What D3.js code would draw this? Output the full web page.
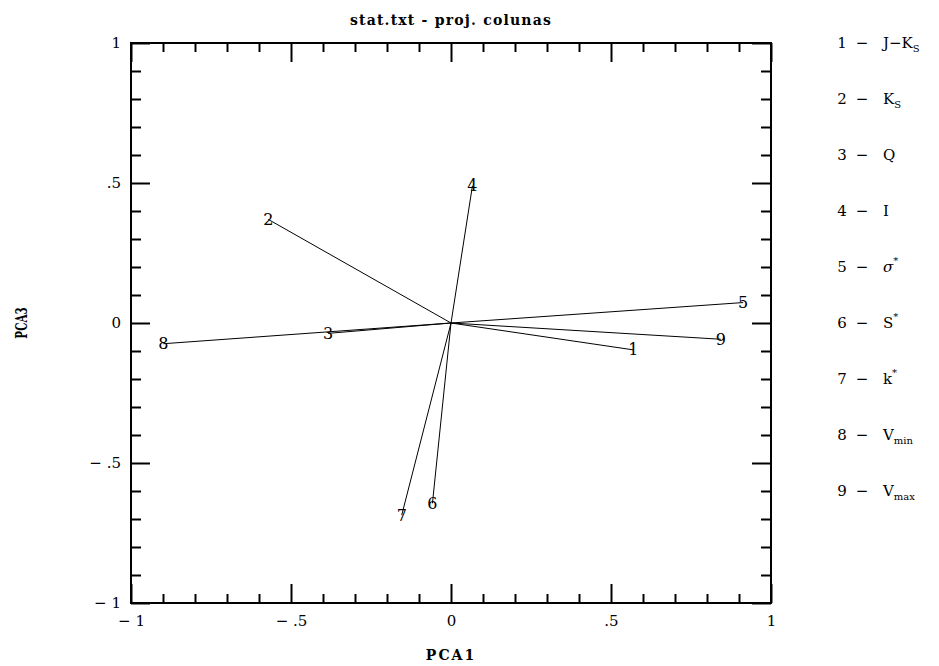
<!DOCTYPE html>
<html>
<head>
<meta charset="utf-8">
<script src="https://cdn.jsdelivr.net/npm/d3@7"></script>
<style>
  body { margin: 0; background: #fff; }
  svg { display: block; }
  text { font-family: "DejaVu Serif", "Liberation Serif", serif; fill: #000; }
</style>
</head>
<body>
<div id="chart"></div>
<script>
// Dados: projeção das colunas (PCA1 x PCA3)
const varIds = ["1", "2", "3", "4", "5", "6", "7", "8", "9"];
const pca1 = [0.570, -0.571, -0.384, 0.067, 0.913, -0.058, -0.154, -0.899, 0.843];
const pca3 = [-0.096, 0.370, -0.037, 0.490, 0.073, -0.644, -0.686, -0.074, -0.058];

// Legenda: [texto base, subscrito, sobrescrito, itálico]
const legendNames = [
  ["J\u2212K", "S", "", false],
  ["K", "S", "", false],
  ["Q", "", "", false],
  ["I", "", "", false],
  ["\u03c3", "", "*", true],
  ["S", "", "*", false],
  ["k", "", "*", false],
  ["V", "min", "", false],
  ["V", "max", "", false]
];

const majorTicks = [-1, -0.5, 0, 0.5, 1];
const minorTicks = d3.range(-10, 11).map(d => d / 10).filter(d => !majorTicks.includes(d));

const titleText = "stat.txt - proj. colunas";
const xLabel = "PCA1", yLabel = "PCA3";

const W = 939, H = 666;
const margin = { top: 43, left: 131 },
      width = 640,
      height = 560;

const svg = d3.select("#chart").append("svg")
  .attr("width", W).attr("height", H);

const g = svg.append("g")
  .attr("transform", `translate(${margin.left},${margin.top})`);

const x = d3.scaleLinear().domain([-1, 1]).range([0, width]);
const y = d3.scaleLinear().domain([-1, 1]).range([height, 0]);

const fmt = d => d === 0 ? "0" : (d < 0 ? "\u2212 " : "") + String(Math.abs(d)).replace(/^0/, "");

// eixos: ticks para dentro, maiores nos valores de 0.5
function styleAxis(sel) {
  sel.select(".domain").remove();
  sel.selectAll("line").attr("stroke", "#000").attr("stroke-width", 2);
  sel.selectAll("text").style("font-size", "15px")
    .style("font-family", "'DejaVu Serif', serif");
}

const axes = [
  { ax: d3.axisBottom(x), tr: `translate(0,${height})`, labels: true },
  { ax: d3.axisTop(x), tr: "translate(0,0)", labels: false },
  { ax: d3.axisLeft(y), tr: "translate(0,0)", labels: true },
  { ax: d3.axisRight(y), tr: `translate(${width},0)`, labels: false }
];

axes.forEach((a, i) => {
  const vertical = i >= 2;
  const minorLen = vertical ? 10 : 9;
  g.append("g").attr("transform", a.tr)
    .call(a.ax.tickValues(minorTicks).tickSize(-minorLen).tickFormat(""))
    .call(styleAxis);
  g.append("g").attr("transform", a.tr)
    .call(a.ax.tickValues(majorTicks).tickSize(-19)
      .tickPadding(a.labels ? (vertical ? 10 : 12) : 0)
      .tickFormat(a.labels ? fmt : ""))
    .call(styleAxis);
});

// moldura
g.append("rect")
  .attr("width", width).attr("height", height)
  .attr("fill", "none").attr("stroke", "#000").attr("stroke-width", 2);

// vetores
g.selectAll(".vec").data(varIds).join("line")
  .attr("class", "vec")
  .attr("x1", x(0)).attr("y1", y(0))
  .attr("x2", (d, i) => x(pca1[i]))
  .attr("y2", (d, i) => y(pca3[i]))
  .attr("stroke", "#000").attr("stroke-width", 1);

g.selectAll(".vlab").data(varIds).join("text")
  .attr("class", "vlab")
  .attr("x", (d, i) => x(pca1[i]))
  .attr("y", (d, i) => y(pca3[i]))
  .attr("dy", "0.35em")
  .attr("text-anchor", "middle")
  .style("font-size", "16px")
  .text(d => d);

// título e rótulos dos eixos
svg.append("text")
  .attr("x", margin.left + width / 2).attr("y", 25)
  .attr("text-anchor", "middle")
  .style("font-size", "14px").style("font-weight", "bold")
  .style("letter-spacing", "1.2px")
  .text(titleText);

svg.append("text")
  .attr("x", margin.left + width / 2).attr("y", 660)
  .attr("text-anchor", "middle")
  .style("font-size", "14px").style("font-weight", "bold")
  .style("letter-spacing", "2px")
  .text(xLabel);

svg.append("text")
  .attr("transform", `translate(27,${margin.top + height / 2}) rotate(-90) scale(0.8,1.35)`)
  .attr("text-anchor", "middle")
  .style("font-size", "13px").style("font-weight", "bold")
  .text(yLabel);

// legenda, alinhada aos ticks de 0.2 em 0.2
const legend = svg.append("g");
varIds.forEach((id, i) => {
  const ly = margin.top + y(1 - 0.2 * i);
  const [base, sub, sup, ital] = legendNames[i];
  const row = legend.append("g").attr("transform", `translate(0,${ly})`);
  row.append("text").attr("x", 842).attr("dy", "0.35em")
    .attr("text-anchor", "middle").style("font-size", "15px").text(id);
  row.append("text").attr("x", 862).attr("dy", "0.35em")
    .attr("text-anchor", "middle").style("font-size", "15px").text("\u2212");
  const t = row.append("text").attr("x", 883).attr("dy", "0.35em")
    .style("font-size", "15px");
  t.append("tspan").style("font-style", ital ? "italic" : "normal").text(base);
  if (sub) t.append("tspan").attr("dy", 4).style("font-size", "10px").text(sub);
  if (sup) t.append("tspan").attr("dy", -8).style("font-size", "10px").text(sup);
});
</script>
</body>
</html>
